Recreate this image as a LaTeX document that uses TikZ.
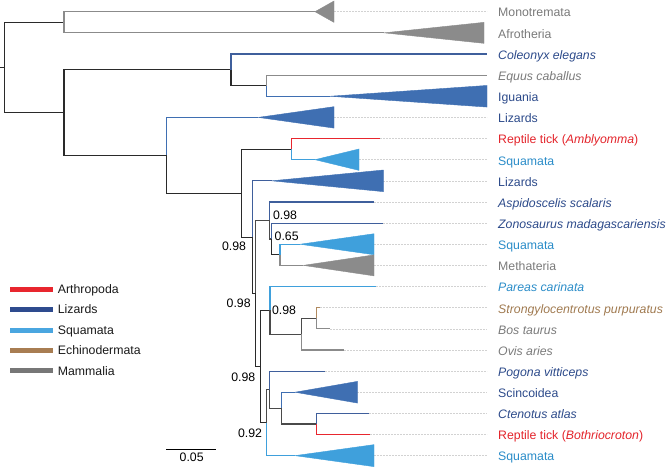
\documentclass[tikz,border=0pt]{standalone}
\usepackage{fontspec}
\setmainfont{Liberation Sans}
\usetikzlibrary{calc}
\definecolor{dk}{HTML}{2A2A2A}
\definecolor{dk2}{HTML}{4A4A4A}
\definecolor{mgray}{HTML}{8B8B8B}
\definecolor{navyline}{HTML}{3F5F9C}
\definecolor{trib}{HTML}{3F6FB2}
\definecolor{sq}{HTML}{3FA0DC}
\definecolor{rd}{HTML}{E8262E}
\definecolor{brn}{HTML}{B08A60}
\definecolor{leadgray}{HTML}{D2D2D2}
\definecolor{tgray}{HTML}{7A7A7A}
\definecolor{tnavy}{HTML}{2C4A8A}
\definecolor{tsq}{HTML}{2A8CC8}
\definecolor{tred}{HTML}{E3242B}
\definecolor{tbrn}{HTML}{A07A50}
\definecolor{gnavy}{HTML}{2E4B8E}
\definecolor{gsq}{HTML}{4AA6E0}
\definecolor{gbrn}{HTML}{A87D52}
\definecolor{ggray}{HTML}{777777}
\newcommand\labfont{\fontsize{12.3}{14}\selectfont}
\begin{document}
\begin{tikzpicture}[x=1pt,y=-1pt,
  br/.style={line width=1.15pt},
  lead/.style={draw=leadgray, line width=0.6pt, dash pattern=on 2pt off 1pt},
  lab/.style={anchor=base west, inner sep=0pt, font=\labfont},
  supp/.style={inner sep=0pt, font=\labfont, text=black},
  legbar/.style={line width=5pt},
  tri/.style={line width=0.4pt}]
\useasboundingbox (0,0) rectangle (669,468);
% internal nodes
\coordinate (rs) at (0,67.41);
\coordinate (R) at (4.7,67.41);
\coordinate (T) at (64,22.27);
\coordinate (U) at (64,112.56);
\coordinate (V) at (231,69.84);
\coordinate (X) at (266.7,85.69);
\coordinate (W) at (166.7,155.27);
\coordinate (Y) at (241.7,193.13);
\coordinate (Z) at (291.7,149.11);
\coordinate (D) at (252.3,237.14);
\coordinate (E) at (255.7,293.46);
\coordinate (A) at (269.3,220.46);
\coordinate (B) at (271.7,238.96);
\coordinate (C) at (280,254.81);
\coordinate (F) at (260.7,366.46);
\coordinate (G) at (270,310.3);
\coordinate (I) at (301.7,334.09);
\coordinate (J) at (316.7,318.23);
\coordinate (H) at (266.7,422.61);
\coordinate (L) at (269.3,389.58);
\coordinate (M) at (281.7,408.08);
\coordinate (N) at (316.7,423.93);
% leaf tips
\coordinate (l1) at (315,11.7);
\coordinate (l2) at (384,32.84);
\coordinate (l3) at (487,53.98);
\coordinate (l4) at (487,75.12);
\coordinate (l5) at (330,96.26);
\coordinate (l6) at (258.3,117.4);
\coordinate (l7) at (380,138.54);
\coordinate (l8) at (315,159.68);
\coordinate (l9) at (271.7,180.82);
\coordinate (l10) at (374,201.96);
\coordinate (l11) at (383,223.1);
\coordinate (l12) at (300,244.24);
\coordinate (l13) at (303.3,265.38);
\coordinate (l14) at (376,286.52);
\coordinate (l15) at (320,307.66);
\coordinate (l16) at (330,328.8);
\coordinate (l17) at (344,349.94);
\coordinate (l18) at (325,371.08);
\coordinate (l19) at (295,392.22);
\coordinate (l20) at (369.3,413.36);
\coordinate (l21) at (370,434.5);
\coordinate (l22) at (295,455.64);
% triangle bases
\coordinate (b1) at (334,11.7);
\coordinate (b2) at (484,32.84);
\coordinate (b5) at (487,96.26);
\coordinate (b6) at (334,117.4);
\coordinate (b8) at (359,159.68);
\coordinate (b9) at (383.3,180.82);
\coordinate (b12) at (374,244.24);
\coordinate (b13) at (374,265.38);
\coordinate (b19) at (357.3,392.22);
\coordinate (b22) at (374,455.64);
% leader ends
\foreach \i/\y in {1/11.7,6/117.4,7/138.54,8/159.68,9/180.82,10/201.96,11/223.1,12/244.24,13/265.38,14/286.52,15/307.66,16/328.8,17/349.94,18/371.08,19/392.22,20/413.36,21/434.5,22/455.64}
  \coordinate (d\i) at (487,\y);
% leaders
\foreach \i in {1,6,8,9,12,13,19,22} \draw[lead] (b\i) -- (d\i);
\foreach \i in {7,10,11,14,15,16,17,18,20,21} \draw[lead] (l\i) -- (d\i);
% branches
\draw[br,dk] (rs) -- (R);
\draw[br,dk] (R) |- (T);
\draw[br,dk] (R) |- (U);
\draw[br,mgray] (T) |- (l1);
\draw[br,mgray] (T) |- (l2);
\draw[br,dk] (U) |- (V);
\draw[br,dk] (U) |- (W);
\draw[br,navyline] (V) |- (l3);
\draw[br,dk] (V) |- (X);
\draw[br,mgray] (X) |- (l4);
\draw[br,trib] (X) |- (l5);
\draw[br,trib] (W) |- (l6);
\draw[br,dk] (W) |- (Y);
\draw[br,dk] (Y) |- (Z);
\draw[br,dk] (Y) |- (D);
\draw[br,rd] (Z) |- (l7);
\draw[br,sq] (Z) |- (l8);
\draw[br,navyline] (D) |- (l9);
\draw[br,dk] (D) |- (E);
\draw[br,dk2] (E) |- (A);
\draw[br,dk] (E) |- (F);
\draw[br,navyline] (A) |- (l10);
\draw[br,dk2] (A) |- (B);
\draw[br,navyline] (B) |- (l11);
\draw[br,dk] (B) |- (C);
\draw[br,sq] (C) |- (l12);
\draw[br,mgray] (C) |- (l13);
\draw[br,dk] (F) |- (G);
\draw[br,dk] (F) |- (H);
\draw[br,sq] (G) |- (l14);
\draw[br,dk2] (G) |- (I);
\draw[br,dk2] (I) |- (J);
\draw[br,mgray] (I) |- (l17);
\draw[br,brn] (J) |- (l15);
\draw[br,mgray] (J) |- (l16);
\draw[br,dk2] (H) |- (L);
\draw[br,sq] (H) |- (l22);
\draw[br,navyline] (L) |- (l18);
\draw[br,dk2] (L) |- (M);
\draw[br,trib] (M) |- (l19);
\draw[br,dk2] (M) |- (N);
\draw[br,navyline] (N) |- (l20);
\draw[br,rd] (N) |- (l21);
% collapsed clades
\filldraw[tri,draw=mgray,fill=mgray] (l1) -- ([yshift=10.7pt]b1) -- ([yshift=-10.7pt]b1) -- cycle;
\filldraw[tri,draw=mgray,fill=mgray] (l2) -- ([yshift=10.5pt]b2) -- ([yshift=-10.5pt]b2) -- cycle;
\filldraw[tri,draw=trib,fill=trib] (l5) -- ([yshift=10.8pt]b5) -- ([yshift=-10.8pt]b5) -- cycle;
\filldraw[tri,draw=trib,fill=trib] (l6) -- ([yshift=10.7pt]b6) -- ([yshift=-10.7pt]b6) -- cycle;
\filldraw[tri,draw=sq,fill=sq] (l8) -- ([yshift=10.7pt]b8) -- ([yshift=-10.7pt]b8) -- cycle;
\filldraw[tri,draw=trib,fill=trib] (l9) -- ([yshift=10.8pt]b9) -- ([yshift=-10.8pt]b9) -- cycle;
\filldraw[tri,draw=sq,fill=sq] (l12) -- ([yshift=10.5pt]b12) -- ([yshift=-10.5pt]b12) -- cycle;
\filldraw[tri,draw=mgray,fill=mgray] (l13) -- ([yshift=10.5pt]b13) -- ([yshift=-10.5pt]b13) -- cycle;
\filldraw[tri,draw=trib,fill=trib] (l19) -- ([yshift=10.8pt]b19) -- ([yshift=-10.8pt]b19) -- cycle;
\filldraw[tri,draw=sq,fill=sq] (l22) -- ([yshift=11pt]b22) -- ([yshift=-11pt]b22) -- cycle;
% labels
\node[lab,text=tgray] (t1) at (498,17.0) {Monotremata};
\node[lab,text=tgray] (t2) at (498,38.1) {Afrotheria};
\node[lab,text=tnavy] (t3) at (498,59.3) {\textit{Coleonyx elegans}};
\node[lab,text=tgray] (t4) at (498,80.4) {\textit{Equus caballus}};
\node[lab,text=tnavy] (t5) at (498,101.6) {Iguania};
\node[lab,text=tnavy] (t6) at (498,122.7) {Lizards};
\node[lab,text=tred] (t7) at (498,143.8) {Reptile tick (\textit{Amblyomma})};
\node[lab,text=tsq] (t8) at (498,165.0) {Squamata};
\node[lab,text=tnavy] (t9) at (498,186.1) {Lizards};
\node[lab,text=tnavy] (t10) at (498,207.3) {\textit{Aspidoscelis scalaris}};
\node[lab,text=tnavy] (t11) at (498,228.4) {\textit{Zonosaurus madagascariensis}};
\node[lab,text=tsq] (t12) at (498,249.5) {Squamata};
\node[lab,text=tgray] (t13) at (498,270.7) {Methateria};
\node[lab,text=tsq] (t14) at (498,291.8) {\textit{Pareas carinata}};
\node[lab,text=tbrn] (t15) at (498,313.0) {\textit{Strongylocentrotus purpuratus}};
\node[lab,text=tgray] (t16) at (498,334.1) {\textit{Bos taurus}};
\node[lab,text=tgray] (t17) at (498,355.2) {\textit{Ovis aries}};
\node[lab,text=tnavy] (t18) at (498,376.4) {\textit{Pogona vitticeps}};
\node[lab,text=tnavy] (t19) at (498,397.5) {Scincoidea};
\node[lab,text=tnavy] (t20) at (498,418.7) {\textit{Ctenotus atlas}};
\node[lab,text=tred] (t21) at (498,439.8) {Reptile tick (\textit{Bothriocroton})};
\node[lab,text=tsq] (t22) at (498,460.9) {Squamata};
% support values
\node[supp] (s1) at (234,246.7) {0.98};
\node[supp] (s2) at (285,215) {0.98};
\node[supp] (s3) at (286.7,236.7) {0.65};
\node[supp] (s4) at (238.7,303.3) {0.98};
\node[supp] (s5) at (284,310) {0.98};
\node[supp] (s6) at (243.3,377.3) {0.98};
\node[supp] (s7) at (250,433.3) {0.92};
% legend
\coordinate (g1a) at (10,289);   \coordinate (g1b) at (53,289);
\coordinate (g2a) at (10,309.3); \coordinate (g2b) at (53,309.3);
\coordinate (g3a) at (10,330);   \coordinate (g3b) at (53,330);
\coordinate (g4a) at (10,350);   \coordinate (g4b) at (53,350);
\coordinate (g5a) at (10,370.7); \coordinate (g5b) at (53,370.7);
\draw[legbar,rd] (g1a) -- (g1b);
\draw[legbar,gnavy] (g2a) -- (g2b);
\draw[legbar,gsq] (g3a) -- (g3b);
\draw[legbar,gbrn] (g4a) -- (g4b);
\draw[legbar,ggray] (g5a) -- (g5b);
\node[lab,text=black!90] (k1) at (57.7,293.5) {Arthropoda};
\node[lab,text=black!90] (k2) at (57.7,313.8) {Lizards};
\node[lab,text=black!90] (k3) at (57.7,334.5) {Squamata};
\node[lab,text=black!90] (k4) at (57.7,354.5) {Echinodermata};
\node[lab,text=black!90] (k5) at (57.7,375.2) {Mammalia};
% scale bar
\coordinate (sb1) at (166,449);
\coordinate (sb2) at (216,449);
\draw[line width=0.6pt,black] (sb1) -- (sb2);
\node[supp] (sbl) at (191.7,457.5) {0.05};
\end{tikzpicture}
\end{document}
